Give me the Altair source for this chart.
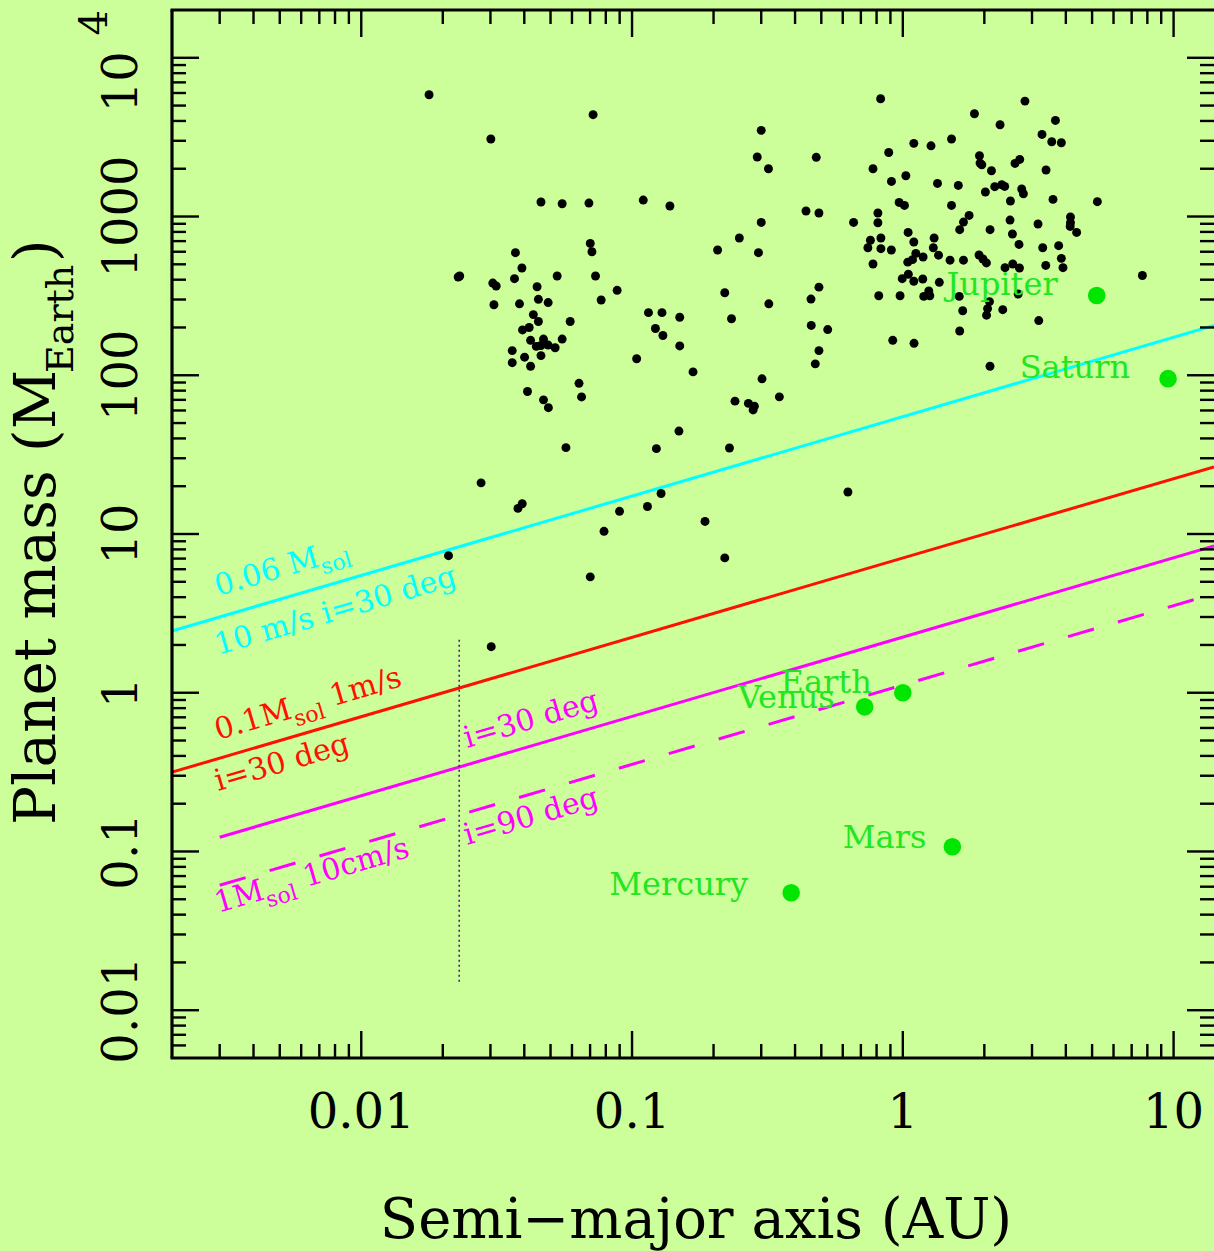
import altair as alt
import pandas as pd

# ---------------- data ----------------
exo_a = [0.0178, 0.0718, 0.0301, 0.0461, 0.0552, 0.0693, 0.110, 0.138, 0.0701, 0.0711,
         0.0371, 0.0392, 0.0228, 0.0231, 0.0368, 0.0529, 0.0733, 0.0306, 0.0315, 0.0446,
         0.0881, 0.0451, 0.0490, 0.0769, 0.0309, 0.0384, 0.0432, 0.115, 0.129, 0.150,
         0.0451, 0.0591, 0.0417, 0.0394, 0.122, 0.130, 0.0422, 0.0471, 0.0552, 0.0443,
         0.0461, 0.0490, 0.0520, 0.150, 0.0361, 0.0401, 0.0461, 0.104, 0.0361, 0.0422,
         0.168, 0.0637, 0.0411, 0.0651, 0.0471, 0.0491, 0.149, 0.0570, 0.123, 0.229,
         0.0277, 0.128, 0.114, 0.0899, 0.0393, 0.0379, 0.0788, 0.186, 0.0210, 0.0701,
         0.220, 0.0302, 0.627, 0.300, 0.290, 0.319, 0.479, 0.439, 0.490, 0.300,
         0.249, 0.207, 0.293, 0.220, 0.320, 0.490, 0.458, 0.233, 0.459, 0.528,
         0.490, 0.475, 0.302, 0.240, 0.269, 0.283, 0.280, 0.350, 0.828, 0.658,
         0.809, 0.809, 0.776, 0.887, 1.098, 1.271, 1.513, 0.908, 1.026, 1.343,
         1.603, 0.969, 1.014, 1.513, 1.046, 0.759, 0.743, 0.830, 0.830, 0.907,
         1.098, 1.305, 1.296, 1.117, 1.086, 1.043, 1.188, 1.355, 1.494, 1.622,
         0.776, 0.995, 1.048, 1.098, 1.185, 1.364, 0.815, 0.977, 1.195, 1.247,
         1.258, 0.918, 1.10, 1.616, 1.664, 1.622, 2.09, 2.056, 2.038, 2.339,
         2.667, 3.177, 2.099, 7.67, 2.825, 1.839, 2.286, 3.661, 3.266, 3.548,
         3.850, 1.919, 1.928, 1.957, 2.596, 2.703, 2.125, 3.38, 2.018, 2.185,
         2.319, 2.378, 2.748, 2.788, 2.497, 3.586, 5.23, 1.757, 1.675, 2.10,
         2.489, 2.54, 3.157, 4.16, 4.16, 4.15, 4.385, 2.686, 3.286, 3.763,
         1.675, 1.912, 1.977, 2.036, 2.385, 2.547, 2.696, 3.372, 3.85, 3.904]
exo_m = [5850, 4380, 3080, 1234, 1204, 1216, 1270, 1165, 677, 600,
         592, 474, 416, 422, 406, 422, 422, 381, 365, 361,
         343, 301, 287, 298, 278, 282, 241, 248, 248, 232,
         218, 218, 200, 193, 197, 178, 166, 169, 169, 152,
         154, 155, 149, 153, 143, 130, 133, 127, 120, 114,
         105, 89, 79, 73, 70, 62.5, 44.5, 35, 34.5, 34.8,
         21, 18.0, 14.9, 13.9, 15.5, 14.5, 10.4, 12.0, 7.3, 5.37,
         7.07, 1.95, 18.4, 3490, 2370, 2000, 2360, 1083, 1052, 918,
         732, 615, 592, 331, 282, 359, 302, 227, 206, 194,
         143, 118, 95, 68.7, 66.5, 63.9, 60.5, 73.1, 5520, 918,
         914, 1052, 2000, 2530, 2890, 2790, 3080, 1664, 1807, 1616,
         1570, 1227, 1175, 1175, 794, 709, 636, 732, 627, 615,
         691, 732, 636, 586, 535, 516, 556, 571, 531, 826,
         502, 406, 433, 391, 404, 385, 317, 317, 314, 340,
         317, 166, 159, 314, 255, 190, 291, 263, 239, 259,
         325, 221, 114, 425, 5335, 4440, 3785, 4030, 3289, 2958,
         2915, 2414, 2172, 2120, 2160, 2290, 1942, 1963, 1427, 1541,
         1586, 1547, 1490, 1392, 1252, 1282, 1240, 1016, 923, 826,
         950, 776, 897, 993, 914, 866, 794, 667, 636, 655,
         531, 572, 540, 510, 476, 502, 474, 492, 545, 476]

planet_names = ["Mercury", "Venus", "Earth", "Mars", "Jupiter", "Saturn"]
planet_a = [0.387, 0.723, 1.0, 1.524, 5.20, 9.54]
planet_m = [0.055, 0.815, 1.0, 0.107, 318, 95.2]

cyan_a, cyan_m = [0.002, 14.1], [2.45, 206]
red_a, red_m = [0.002, 14.1], [0.316, 26.5]
mag30_a, mag30_m = [0.003, 14.1], [0.123, 8.40]
mag90_a, mag90_m = [0.003, 14.1], [0.0613, 4.20]
limit_a, limit_m = [0.0230, 0.0230], [0.0151, 2.17]

x_major = [0.01, 0.1, 1, 10]
x_major_labels = ["0.01", "0.1", "1", "10"]
x_minor = [0.003, 0.004, 0.005, 0.006, 0.007, 0.008, 0.009,
           0.02, 0.03, 0.04, 0.05, 0.06, 0.07, 0.08, 0.09,
           0.2, 0.3, 0.4, 0.5, 0.6, 0.7, 0.8, 0.9,
           2, 3, 4, 5, 6, 7, 8, 9]
y_major = [0.01, 0.1, 1, 10, 100, 1000, 10000]
y_major_labels = ["0.01", "0.1", "1", "10", "100", "1000"]
y_minor = [0.006, 0.007, 0.008, 0.009,
           0.02, 0.03, 0.04, 0.05, 0.06, 0.07, 0.08, 0.09,
           0.2, 0.3, 0.4, 0.5, 0.6, 0.7, 0.8, 0.9,
           2, 3, 4, 5, 6, 7, 8, 9,
           20, 30, 40, 50, 60, 70, 80, 90,
           200, 300, 400, 500, 600, 700, 800, 900,
           2000, 3000, 4000, 5000, 6000, 7000, 8000, 9000]

# ---------------- styling ----------------
W, H = 1042, 1048
BG = "#ccff99"
CYAN, RED, MAG = "#00ffff", "#ff1000", "#ff00ff"
GREEN_DOT, GREEN_TXT = "#00e600", "#22e622"
FONT = "DejaVu Serif"
ANG = 343.67  # slope of the m ~ a^0.5 lines

xs = alt.Scale(type="log", domain=[0.002, 14.1])
ys = alt.Scale(type="log", domain=[0.005, 20000])


def X(f="a"):
    return alt.X(f"{f}:Q", scale=xs, axis=None)


def Y(f="m"):
    return alt.Y(f"{f}:Q", scale=ys, axis=None)


one = pd.DataFrame({"z": [0]})
layers = []

# reference lines
for la, lm, col, dash, in [(cyan_a, cyan_m, CYAN, None), (red_a, red_m, RED, None),
                           (mag30_a, mag30_m, MAG, None), (mag90_a, mag90_m, MAG, [27, 25])]:
    kw = dict(color=col, strokeWidth=3)
    if dash:
        kw["strokeDash"] = dash
    layers.append(alt.Chart(pd.DataFrame({"a": la, "m": lm})).mark_line(**kw).encode(x=X(), y=Y()))

# dotted vertical line
lim = pd.DataFrame({"a": [limit_a[0]], "m": [limit_m[0]], "m2": [limit_m[1]]})
layers.append(alt.Chart(lim).mark_rule(color="#4a2080", strokeWidth=1.6, strokeDash=[2, 3]).encode(
    x=X(), y=Y(), y2="m2:Q"))

# exoplanets
layers.append(alt.Chart(pd.DataFrame({"a": exo_a, "m": exo_m})).mark_circle(
    size=80, color="black", opacity=1).encode(x=X(), y=Y()))

# solar system planets
pl = pd.DataFrame({"a": planet_a, "m": planet_m, "name": planet_names})
layers.append(alt.Chart(pl).mark_circle(size=310, color=GREEN_DOT, opacity=1).encode(x=X(), y=Y()))
label_off = {"Mercury": (-43, 2), "Venus": (-30, 1), "Earth": (-31, 0),
             "Mars": (-26, 1), "Jupiter": (-39, -1), "Saturn": (-38, -1)}
for name in planet_names:
    dx, dy = label_off[name]
    layers.append(alt.Chart(pl[pl.name == name]).mark_text(
        align="right", baseline="alphabetic", dx=dx, dy=dy, font=FONT, fontSize=32,
        color=GREEN_TXT).encode(x=X(), y=Y(), text="name:N"))

# annotations along lines: (text, colour, a, m, dx, dy, size)
ann = [
    ("0.06 M", CYAN, 0.00296, 4.07, 0, 0, 30),
    ("sol", CYAN, 0.00296, 4.07, 107, 9, 22),
    ("10 m/s i=30 deg", CYAN, 0.00296, 1.73, 0, 0, 30),
    ("0.1M", RED, 0.00296, 0.504, 0, 0, 30),
    ("sol", RED, 0.00296, 0.504, 79, 9, 22),
    ("1m/s", RED, 0.00296, 0.504, 120, 0, 30),
    ("i=30 deg", RED, 0.00296, 0.240, 0, 0, 30),
    ("i=30 deg", MAG, 0.0246, 0.449, 0, 0, 30),
    ("i=90 deg", MAG, 0.0246, 0.110, 0, 0, 30),
    ("1M", MAG, 0.00296, 0.041, 0, 0, 30),
    ("sol", MAG, 0.00296, 0.041, 50, 9, 22),
    ("10cm/s", MAG, 0.00296, 0.041, 92, 0, 30),
]
for t, col, a, m, dx, dy, fs in ann:
    layers.append(alt.Chart(pd.DataFrame({"a": [a], "m": [m], "t": [t]})).mark_text(
        align="left", baseline="alphabetic", angle=ANG, dx=dx, dy=dy, font=FONT,
        fontSize=fs, color=col).encode(x=X(), y=Y(), text="t:N"))

# frame (left, top, bottom)
fr = dict(color="black", strokeWidth=3.2)
layers.append(alt.Chart(one).mark_rule(**fr).encode(x=alt.value(0), y=alt.value(0), y2=alt.value(H)))
layers.append(alt.Chart(one).mark_rule(**fr).encode(x=alt.value(-1.5), x2=alt.value(W + 4), y=alt.value(0)))
layers.append(alt.Chart(one).mark_rule(**fr).encode(x=alt.value(-1.5), x2=alt.value(W + 4), y=alt.value(H)))

# inward ticks on four sides
tk = dict(color="black", strokeWidth=2.4)
for vals, L in [(x_major, 27), (x_minor, 14)]:
    d = pd.DataFrame({"v": vals})
    layers.append(alt.Chart(d).mark_rule(**tk).encode(x=X("v"), y=alt.value(H), y2=alt.value(H - L)))
    layers.append(alt.Chart(d).mark_rule(**tk).encode(x=X("v"), y=alt.value(0), y2=alt.value(L)))
for vals, L in [(y_major, 27), (y_minor, 14)]:
    d = pd.DataFrame({"v": vals})
    layers.append(alt.Chart(d).mark_rule(**tk).encode(y=Y("v"), x=alt.value(0), x2=alt.value(L)))
    layers.append(alt.Chart(d).mark_rule(**tk).encode(y=Y("v"), x=alt.value(W), x2=alt.value(W - L)))

# tick labels
layers.append(alt.Chart(pd.DataFrame({"v": x_major, "t": x_major_labels})).mark_text(
    align="center", baseline="alphabetic", font=FONT, fontSize=48, color="black").encode(
    x=X("v"), y=alt.value(H + 70), text="t:N"))
layers.append(alt.Chart(pd.DataFrame({"v": y_major[:-1], "t": y_major_labels})).mark_text(
    align="center", baseline="alphabetic", angle=270, font=FONT, fontSize=48, color="black").encode(
    y=Y("v"), x=alt.value(-35), text="t:N"))
top = pd.DataFrame({"v": [y_major[-1]], "t": ["10"], "e": ["4"]})
layers.append(alt.Chart(top).mark_text(
    align="center", baseline="alphabetic", angle=270, dx=-24, font=FONT, fontSize=48,
    color="black").encode(y=Y("v"), x=alt.value(-35), text="t:N"))
layers.append(alt.Chart(top).mark_text(
    align="center", baseline="alphabetic", angle=270, dx=35, dy=-30, font=FONT, fontSize=40,
    color="black").encode(y=Y("v"), x=alt.value(-35), text="e:N"))

# axis titles
layers.append(alt.Chart(pd.DataFrame({"t": ["Semi\u2212major axis (AU)"]})).mark_text(
    align="center", baseline="alphabetic", font=FONT, fontSize=56, color="black").encode(
    x=alt.value(524), y=alt.value(1228), text="t:N"))
ytitle = [("Planet mass (M", 0, 0, 58), ("Earth", 452, 18, 38), (")", 563, 0, 58)]
for t, dx, dy, fs in ytitle:
    layers.append(alt.Chart(pd.DataFrame({"t": [t]})).mark_text(
        align="left", baseline="alphabetic", angle=270, dx=dx, dy=dy, font=FONT, fontSize=fs,
        color="black").encode(x=alt.value(-117), y=alt.value(815), text="t:N"))

chart = alt.layer(*layers).properties(
    width=W, height=H, background=BG,
    padding={"left": 172, "top": 10, "right": 0, "bottom": 193},
    autosize=alt.AutoSizeParams(type="none"),
).configure_view(stroke="transparent")

chart.save("out.html", embed_options={"renderer": "svg", "actions": False})
